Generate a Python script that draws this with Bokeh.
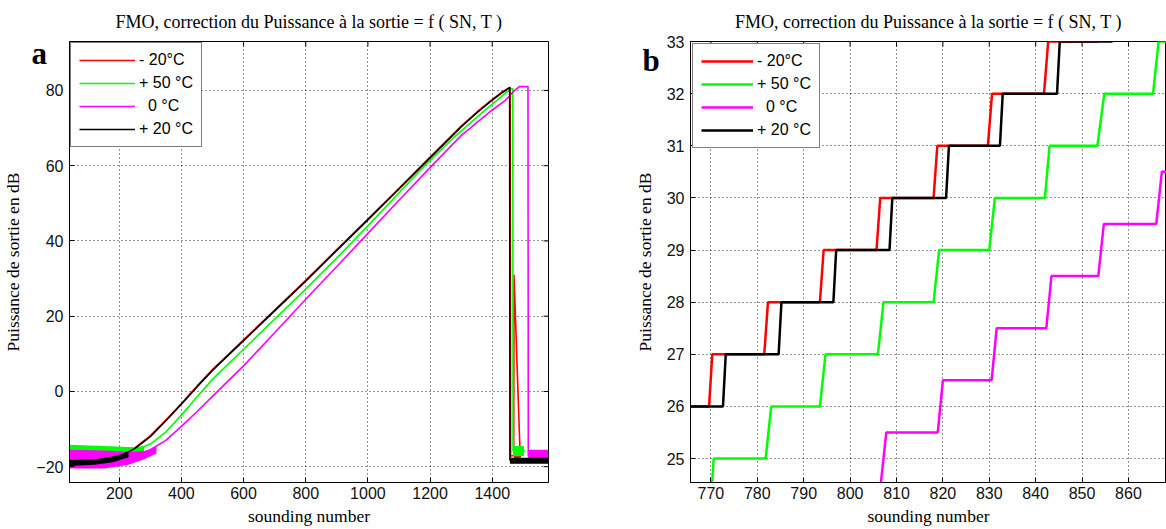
import math
from bokeh.plotting import figure
from bokeh.layouts import row
from bokeh.models import Range1d, FixedTicker, Label, Legend, LegendItem, GlobalInlineStyleSheet
from bokeh.embed import file_html
from bokeh.resources import INLINE

TITLE = "FMO, correction du Puissance à la sortie = f ( SN, T )"
XLABEL = "sounding number"
YLABEL = "Puissance de sortie en dB"
SERIES = ["- 20°C", "+ 50 °C", "\u00a0\u00a00 °C", "+ 20 °C"]
COLORS = ["#ff0000", "#00ff00", "#ff00ff", "#000000"]

# ---------------- panel a : key points ----------------
a_xrange = (40, 1581)
a_yrange = (-24.2, 93)
a_xticks = [200, 400, 600, 800, 1000, 1200, 1400]
a_yticks = [-20, 0, 20, 40, 60, 80]

a_red_x = [40, 150, 200, 250, 300, 350, 400, 450, 500, 600, 700, 800, 900, 1000, 1100, 1175, 1250, 1300, 1350, 1397, 1430, 1458, 1459, 1469, 1470, 1490]
a_red_y = [-17.5, -17.3, -16.8, -15.0, -11.8, -7.6, -3.2, 1.4, 5.8, 13.7, 21.6, 29.5, 37.7, 45.8, 54.0, 60.2, 66.4, 70.5, 74.2, 77.4, 79.5, 80.8, -17.2, -17.0, 31.0, -17.5]
a_green_x = [40, 150, 250, 300, 350, 400, 450, 500, 600, 700, 800, 900, 1000, 1100, 1183, 1280, 1376, 1413, 1445, 1462, 1466, 1467, 1505]
a_green_y = [-15.8, -15.8, -15.6, -14.0, -10.8, -6.3, -1.5, 3.2, 11.2, 19.2, 27.2, 35.5, 44.0, 52.8, 60.0, 67.8, 74.7, 77.2, 79.5, 80.4, 80.4, -15.8, -15.8]
a_magenta_x = [40, 150, 250, 300, 350, 400, 450, 500, 600, 700, 800, 900, 1000, 1100, 1206, 1300, 1400, 1440, 1470, 1487, 1515, 1516, 1580]
a_magenta_y = [-17.8, -17.8, -17.2, -15.5, -13.0, -9.3, -5.4, -1.3, 6.8, 15.6, 24.5, 33.2, 42.0, 50.8, 60.0, 68.0, 74.8, 77.2, 79.8, 81.0, 81.0, -17.2, -17.2]
a_black_x = [40, 100, 150, 200, 250, 300, 350, 400, 450, 500, 600, 700, 800, 900, 1000, 1100, 1175, 1250, 1300, 1350, 1397, 1430, 1456, 1457, 1580]
a_black_y = [-19.0, -18.8, -18.3, -17.2, -15.2, -12.0, -7.8, -3.4, 1.2, 5.6, 13.5, 21.4, 29.3, 37.5, 45.6, 53.8, 60.0, 66.2, 70.3, 74.0, 77.2, 79.3, 80.8, -18.3, -18.3]

# noise envelopes (x, low, high)
a_red_nx = [40, 200, 250]
a_red_lo = [-19.5, -19.0, -17.0]
a_red_hi = [-15.2, -15.5, -14.8]
a_red_nx2 = [1470, 1492]
a_red_lo2 = [-18.5, -18.5]
a_red_hi2 = [-16.5, -16.5]
a_green_nx = [40, 150, 250, 280]
a_green_lo = [-17.5, -17.5, -17.0, -16.0]
a_green_hi = [-14.2, -14.5, -14.8, -14.5]
a_green_nx2 = [1467, 1502]
a_green_lo2 = [-17.2, -17.2]
a_green_hi2 = [-14.5, -14.5]
a_magenta_nx = [40, 150, 230, 280, 320]
a_magenta_lo = [-20.5, -20.5, -19.5, -18.0, -16.5]
a_magenta_hi = [-15.5, -15.7, -16.0, -15.8, -14.8]
a_magenta_nx2 = [1516, 1580]
a_magenta_lo2 = [-19.0, -19.0]
a_magenta_hi2 = [-15.5, -15.5]
a_black_nx = [40, 120, 180, 230]
a_black_lo = [-19.8, -19.5, -18.8, -17.5]
a_black_hi = [-18.2, -18.0, -17.2, -16.2]
a_black_nx2 = [1457, 1580]
a_black_lo2 = [-19.2, -19.2]
a_black_hi2 = [-17.6, -17.6]

# ---------------- panel b : step vertices ----------------
b_xrange = (765.6, 868.2)
b_yrange = (24.54, 33)
b_xticks = [770, 780, 790, 800, 810, 820, 830, 840, 850, 860]
b_yticks = [25, 26, 27, 28, 29, 30, 31, 32, 33]

b_red_x = [765.6, 769.6, 770.3, 781.5, 782.3, 793.5, 794.3, 805.7, 806.5, 818.0, 818.8, 829.7, 830.6, 841.8, 842.7, 853.5, 854.2]
b_red_y = [26, 26, 27, 27, 28, 28, 29, 29, 30, 30, 31, 31, 32, 32, 33, 33, 34]
b_green_x = [765.6, 769.9, 770.6, 781.8, 783.0, 793.5, 794.7, 806.0, 807.2, 818.0, 819.2, 830.0, 831.2, 842.0, 843.0, 853.3, 854.8, 865.3, 866.5, 870.0]
b_green_y = [24, 24, 25, 25, 26, 26, 27, 27, 28, 28, 29, 29, 30, 30, 31, 31, 32, 32, 33, 33]
b_magenta_x = [790.0, 806.6, 807.8, 818.9, 820.0, 830.5, 831.6, 842.3, 843.4, 853.5, 854.7, 866.0, 867.2, 870.0]
b_magenta_y = [24.5, 24.5, 25.5, 25.5, 26.5, 26.5, 27.5, 27.5, 28.5, 28.5, 29.5, 29.5, 30.5, 30.5]
b_black_x = [765.6, 772.6, 773.2, 784.6, 785.2, 796.4, 797.0, 808.5, 809.1, 820.7, 821.3, 832.3, 832.9, 844.6, 845.2, 856.5, 857.0]
b_black_y = [26, 26, 27, 27, 28, 28, 29, 29, 30, 30, 31, 31, 32, 32, 33, 33, 34]

FIG_H = 529


def make_panel(width, xr, yr, xticks, yticks, lb, rb, mirror_right, ylab_standoff):
    p = figure(width=width, height=FIG_H, output_backend="svg", toolbar_location=None,
               x_range=Range1d(*xr), y_range=Range1d(*yr),
               min_border_left=lb, min_border_right=rb, min_border_top=40, min_border_bottom=47)
    p.background_fill_color = "white"
    p.border_fill_color = "white"
    p.outline_line_color = "black"
    p.outline_line_width = 1
    p.outline_line_alpha = 1
    p.title.text = TITLE
    p.title.align = "center"
    p.title.text_font = "Liberation Serif"
    p.title.text_font_size = "18px"
    p.title.text_font_style = "normal"
    p.title.text_color = "black"
    p.title.standoff = 19
    xa = p.below[0]
    ya = p.left[0]
    xa.ticker = FixedTicker(ticks=xticks)
    ya.ticker = FixedTicker(ticks=yticks)
    for ax in (xa, ya):
        ax.major_tick_in = 5
        ax.major_tick_out = 0
        ax.minor_tick_in = 0
        ax.minor_tick_out = 0
        ax.axis_line_color = "black"
        ax.major_tick_line_color = "black"
        ax.major_label_text_font = "Liberation Sans"
        ax.major_label_text_font_size = "16px"
        ax.major_label_text_color = "#111111"
        ax.axis_label_text_font = "Liberation Serif"
        ax.axis_label_text_font_size = "17.5px"
        ax.axis_label_text_font_style = "normal"
        ax.axis_label_text_color = "black"
    xa.axis_label = XLABEL
    ya.axis_label = YLABEL
    xa.major_label_standoff = 4
    xa.axis_label_standoff = 4
    ya.major_label_standoff = 6
    ya.axis_label_standoff = ylab_standoff
    for g, t in ((p.xgrid, xticks), (p.ygrid, yticks)):
        g.ticker = FixedTicker(ticks=t)
        g.grid_line_color = "black"
        g.grid_line_dash = "1 3"
        g.grid_line_width = 1
        g.grid_line_alpha = 0.85
    # inward tick marks mirrored on the top (and right) edge of the box
    p.scatter(x=xticks, y=[yr[1]] * len(xticks), marker="dash", size=10, angle=math.pi / 2,
              line_color="black", line_width=1)
    if mirror_right:
        p.scatter(x=[xr[1]] * len(yticks), y=yticks, marker="dash", size=10,
                  line_color="black", line_width=1)
    return p


def add_legend(p, renderers, margin, glyph_w):
    items = [LegendItem(label=s, renderers=[r]) for s, r in zip(SERIES, renderers)]
    leg = Legend(items=items, location="top_left", margin=margin, padding=8, spacing=5,
                 glyph_width=glyph_w, glyph_height=16, label_height=16, label_standoff=4,
                 label_text_font="Liberation Sans", label_text_font_size="16px",
                 label_text_color="black", border_line_color="black", border_line_width=1,
                 background_fill_color="white", background_fill_alpha=1)
    p.add_layout(leg)


def panel_letter(text, x, y):
    return Label(x=x, y=y, x_units="screen", y_units="screen", text=text,
                 text_font="Liberation Serif", text_font_style="bold", text_font_size="31px",
                 text_color="black", text_baseline="alphabetic", text_align="left")


# ---------------- panel a ----------------
pa = make_panel(604, a_xrange, a_yrange, a_xticks, a_yticks, 64, 56, True, 10)
bands = [
    (a_red_nx, a_red_lo, a_red_hi, a_red_nx2, a_red_lo2, a_red_hi2),
    (a_green_nx, a_green_lo, a_green_hi, a_green_nx2, a_green_lo2, a_green_hi2),
    (a_magenta_nx, a_magenta_lo, a_magenta_hi, a_magenta_nx2, a_magenta_lo2, a_magenta_hi2),
    (a_black_nx, a_black_lo, a_black_hi, a_black_nx2, a_black_lo2, a_black_hi2),
]
lines_a = [(a_red_x, a_red_y), (a_green_x, a_green_y), (a_magenta_x, a_magenta_y), (a_black_x, a_black_y)]
rend_a = []
for (lx, ly), (nx, lo, hi, nx2, lo2, hi2), c in zip(lines_a, bands, COLORS):
    pa.varea(x=nx, y1=lo, y2=hi, fill_color=c)
    pa.varea(x=nx2, y1=lo2, y2=hi2, fill_color=c)
    rend_a.append(pa.line(lx, ly, line_color=c, line_width=1.6))
add_legend(pa, rend_a, 1, 56)
# letter drawn from the (empty) right border panel so that it is not clipped by the frame
pa.add_layout(panel_letter("a", -517, 429), "right")

# ---------------- panel b ----------------
pb = make_panel(562, b_xrange, b_yrange, b_xticks, b_yticks, 86, 0, False, 9)
lines_b = [(b_red_x, b_red_y), (b_green_x, b_green_y), (b_magenta_x, b_magenta_y), (b_black_x, b_black_y)]
rend_b = []
for (lx, ly), c in zip(lines_b, COLORS):
    rend_b.append(pb.line(lx, ly, line_color=c, line_width=2.5))
add_legend(pb, rend_b, 2, 52)
pb.add_layout(panel_letter("b", 28, 422), "left")

page_css = GlobalInlineStyleSheet(css="html, body { margin: 0; padding: 0; overflow: hidden; }")
layout = row(pa, pb, stylesheets=[page_css])
open("out.html", "w").write(file_html(layout, INLINE))
